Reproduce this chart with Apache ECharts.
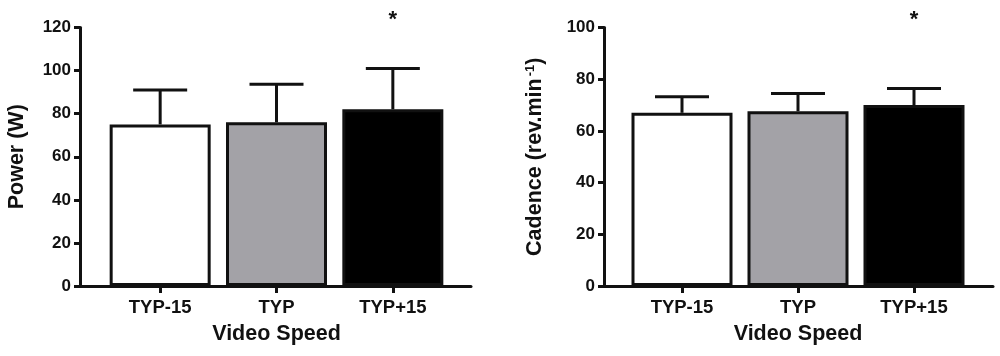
<!doctype html>
<html>
<head>
<meta charset="utf-8">
<title>Power and cadence by video speed</title>
<script src="https://cdn.jsdelivr.net/npm/echarts@6/dist/echarts.min.js"></script>
</head>
<body style="margin:0;padding:0;background:#fff">
<div id="main" style="width:1000px;height:356px;"></div>
<script>
// data (mean + SD, * = significant)
var categories = ['TYP-15', 'TYP', 'TYP+15'];
var barColors = ['#ffffff', '#a3a2a7', '#000000'];
var powerMean = [75, 76, 82];
var powerSd = [16, 17.6, 19];
var powerSig = [0, 0, 1];
var cadenceMean = [67, 67.6, 70];
var cadenceSd = [6.2, 6.9, 6.4];
var cadenceSig = [0, 0, 1];

var ink = '#111';
var font = "'Liberation Sans', Arial, sans-serif";

var chart = echarts.init(document.getElementById('main'));

// bar data with per-bar fill
function barData(means) {
	return means.map(function (v, i) {
		return { value: v, itemStyle: { color: barColors[i] } };
	});
}
// [index, mean, mean+sd, sig]
function errData(means, sds, sig) {
	return means.map(function (v, i) {
		return [i, v, v + sds[i], sig[i]];
	});
}

function renderErr(yMax) {
	return function (params, api) {
		var base = api.coord([api.value(0), api.value(1)]);
		var top = api.coord([api.value(0), api.value(2)]);
		var half = 27;
		var st = { stroke: ink, lineWidth: 3 };
		var kids = [
			{ type: 'line', shape: { x1: base[0], y1: base[1], x2: top[0], y2: top[1] }, style: st },
			{ type: 'line', shape: { x1: top[0] - half, y1: top[1], x2: top[0] + half, y2: top[1] }, style: st }
		];
		if (api.value(3)) {
			var p = api.coord([api.value(0), yMax]);
			kids.push({
				type: 'text',
				style: { x: p[0], y: p[1] - 8, text: '*', fill: ink, font: 'bold 22px ' + font, align: 'center', verticalAlign: 'middle' }
			});
		}
		return { type: 'group', children: kids };
	};
}

var lineAxis = { lineStyle: { color: ink, width: 3 } };
var tickLabel = { color: ink, fontFamily: font, fontWeight: 'bold', fontSize: 17 };
var catLabel = { color: ink, fontFamily: font, fontWeight: 'bold', fontSize: 18.5 };
var nameStyle = { color: ink, fontFamily: font, fontWeight: 'bold', fontSize: 21.5 };

chart.setOption({
	animation: false,
	grid: [
		{ left: 80, right: 529, top: 27.5, bottom: 70 },
		{ left: 102, right: 549, top: 27.5, bottom: 70 },
		{ left: 604, right: 7, top: 27.5, bottom: 70 },
		{ left: 624, right: 28, top: 27.5, bottom: 70 }
	],
	xAxis: [
		{ gridIndex: 0, type: 'value', min: 0, max: 1, axisLine: lineAxis, axisTick: { show: false }, axisLabel: { show: false }, splitLine: { show: false } },
		{ gridIndex: 1, type: 'category', data: categories, axisLine: { show: false },
			axisTick: { show: true, alignWithLabel: true, length: 7, lineStyle: { color: ink, width: 3 } },
			axisLabel: Object.assign({ margin: 12 }, catLabel),
			name: 'Video Speed', nameLocation: 'middle', nameGap: 37, nameTextStyle: nameStyle },
		{ gridIndex: 2, type: 'value', min: 0, max: 1, axisLine: lineAxis, axisTick: { show: false }, axisLabel: { show: false }, splitLine: { show: false } },
		{ gridIndex: 3, type: 'category', data: categories, axisLine: { show: false },
			axisTick: { show: true, alignWithLabel: true, length: 7, lineStyle: { color: ink, width: 3 } },
			axisLabel: Object.assign({ margin: 12 }, catLabel),
			name: 'Video Speed', nameLocation: 'middle', nameGap: 37, nameTextStyle: nameStyle }
	],
	yAxis: [
		{ gridIndex: 0, type: 'value', min: 0, max: 120, interval: 20, axisLine: Object.assign({ show: true }, lineAxis),
			axisTick: { show: true, length: 6, lineStyle: { color: ink, width: 3 } },
			axisLabel: Object.assign({ margin: 9 }, tickLabel), splitLine: { show: false },
			name: 'Power (W)', nameLocation: 'middle', nameRotate: 90, nameGap: 52, nameTextStyle: nameStyle },
		{ gridIndex: 1, type: 'value', min: 0, max: 120, show: false },
		{ gridIndex: 2, type: 'value', min: 0, max: 100, interval: 20, axisLine: Object.assign({ show: true }, lineAxis),
			axisTick: { show: true, length: 6, lineStyle: { color: ink, width: 3 } },
			axisLabel: Object.assign({ margin: 9 }, tickLabel), splitLine: { show: false },
			name: 'Cadence (rev.min{sup|-1})', nameLocation: 'middle', nameRotate: 90, nameGap: 58,
			nameTextStyle: Object.assign({
				rich: { sup: { color: ink, fontFamily: font, fontWeight: 'bold', fontSize: 13, verticalAlign: 'top', padding: [0, 0, 9, 2] } }
			}, nameStyle) },
		{ gridIndex: 3, type: 'value', min: 0, max: 100, show: false }
	],
	series: [
		{ type: 'bar', xAxisIndex: 1, yAxisIndex: 1, barWidth: 101, data: barData(powerMean),
			itemStyle: { borderColor: ink, borderWidth: 3 } },
		{ type: 'custom', xAxisIndex: 1, yAxisIndex: 1, renderItem: renderErr(120), data: errData(powerMean, powerSd, powerSig), z: 5, clip: false },
		{ type: 'bar', xAxisIndex: 3, yAxisIndex: 3, barWidth: 101, data: barData(cadenceMean),
			itemStyle: { borderColor: ink, borderWidth: 3 } },
		{ type: 'custom', xAxisIndex: 3, yAxisIndex: 3, renderItem: renderErr(100), data: errData(cadenceMean, cadenceSd, cadenceSig), z: 5, clip: false }
	]
});
</script>
</body>
</html>
